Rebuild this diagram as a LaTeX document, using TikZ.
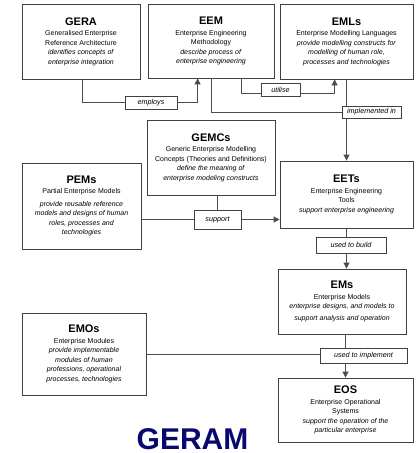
\documentclass[tikz,border=0pt]{standalone}
\usepackage{fontspec}
\setmainfont{Liberation Sans}
\usepackage{tikz}
\usetikzlibrary{arrows.meta}

\definecolor{geramblue}{RGB}{8,8,110}
\newcommand{\boxhead}[1]{{\fontsize{11}{13}\selectfont\bfseries #1}\\[1pt]}

\begin{document}
\begin{tikzpicture}[
				x=1pt, y=-1pt,
				box style/.style={
					draw=black!75,
					line width=0.8pt,
					align=center,
					inner sep=2pt,
					font=\fontsize{7}{9.5}\selectfont
				},
				tag style/.style={
					draw=black!75,
					line width=0.7pt,
					fill=white,
					inner sep=1pt,
					font=\fontsize{7.2}{8}\selectfont\itshape
				},
				link/.style={draw=black!70, line width=0.8pt},
				>={Triangle[length=6pt,width=6pt]}
				]
				
				\useasboundingbox (0,0) rectangle (417,453);
				
				% the framework components
				\node[box style, minimum width=118pt, minimum height=75pt] (gera) at (81,41.5)
				{\boxhead{GERA}Generalised Enterprise\\Reference Architecture\\
				 \textit{identifies concepts of}\\\textit{enterprise integration}};
				
				\node[box style, minimum width=126pt, minimum height=74pt] (eem) at (211,41)
				{\boxhead{EEM}Enterprise Engineering\\Methodology\\
				 \textit{describe process of}\\\textit{enterprise engineering}};
				
				\node[box style, minimum width=133pt, minimum height=75pt] (emls) at (346.5,41.5)
				{\boxhead{EMLs}Enterprise Modelling Languages\\
				 \textit{provide modelling constructs for}\\\textit{modelling of human role,}\\
				 \textit{processes and technologies}};
				
				\node[box style, minimum width=128pt, minimum height=75pt] (gemcs) at (211,157.5)
				{\boxhead{GEMCs}Generic Enterprise Modelling\\Concepts (Theories and Definitions)\\
				 \textit{define the meaning of}\\\textit{enterprise modeling constructs}};
				
				\node[box style, minimum width=119pt, minimum height=86pt] (pems) at (81.5,206)
				{\boxhead{PEMs}Partial Enterprise Models\\[3pt]
				 \textit{provide reusable reference}\\\textit{models and designs of human}\\
				 \textit{roles, processes and}\\\textit{technologies}};
				
				\node[box style, minimum width=133pt, minimum height=67pt] (eets) at (346.5,194.5)
				{\boxhead{EETs}Enterprise Engineering\\Tools\\
				 \textit{support enterprise engineering}};
				
				\node[box style, minimum width=128pt, minimum height=65pt] (ems) at (342,301.5)
				{\boxhead{EMs}Enterprise Models\\
				 \textit{enterprise designs, and models to}\\[2pt]\textit{support analysis and operation}};
				
				\node[box style, minimum width=124pt, minimum height=82pt] (emos) at (84,354)
				{\boxhead{EMOs}Enterprise Modules\\
				 \textit{provide implementable}\\\textit{modules of human}\\
				 \textit{professions, operational}\\\textit{processes, technologies}};
				
				\node[box style, minimum width=135pt, minimum height=64pt] (eos) at (345.5,410)
				{\boxhead{EOS}Enterprise Operational\\Systems\\
				 \textit{support the operation of the}\\\textit{particular enterprise}};
				
				% relation labels
				\node[tag style, minimum width=52pt, minimum height=13pt] (employs) at (151,102.5) {employs};
				\node[tag style, minimum width=39pt, minimum height=13pt] (utilise) at (280.5,89.5) {utilise};
				\node[tag style, minimum width=59pt, minimum height=12pt] (implemented) at (371.5,112) {implemented in};
				\node[tag style, minimum width=47pt, minimum height=19pt] (support) at (217.5,219.5) {support};
				\node[tag style, minimum width=70pt, minimum height=16pt] (build) at (351,245) {used to build};
				\node[tag style, minimum width=87pt, minimum height=15pt] (implement) at (363.5,355.5) {used to implement};
				
				% connectors
				\draw[link] ([xshift=1pt]gera.south) |- (employs.west);
				\draw[link, ->] (employs.east) -| ([xshift=50pt]eem.south west);
				\draw[link] ([xshift=94pt]eem.south west) |- ([yshift=-4pt]utilise.west);
				\draw[link, ->] ([yshift=-4pt]utilise.east) -| ([xshift=55pt]emls.south west);
				\draw[link] (eem.south) |- (implemented.west);
				\draw[link] (emls.south) -- (emls.south |- implemented.north);
				\draw[link, ->] (implemented.south -| emls.south) -- (eets.north);
				\draw[link] (gemcs.south -| support.north) -- (support.north);
				\draw[link] (pems.east |- support.west) -- (support.west);
				\draw[link, ->] (support.east) -- (support.east -| eets.west);
				\draw[link] (eets.south) -- (eets.south |- build.north);
				\draw[link, ->] (build.south -| eets.south) -- (ems.north -| eets.south);
				\draw[link] (ems.south -| eos.north) -- (implement.north -| eos.north);
				\draw[link] (emos.east) -- (emos.east -| implement.west);
				\draw[link, ->] (implement.south -| eos.north) -- (eos.north);
				
				% title
				\node[font=\fontsize{30}{30}\selectfont\bfseries, text=geramblue, anchor=base, inner sep=0pt] (geram) at (192.5,449) {GERAM};
				
			\end{tikzpicture}
\end{document}
